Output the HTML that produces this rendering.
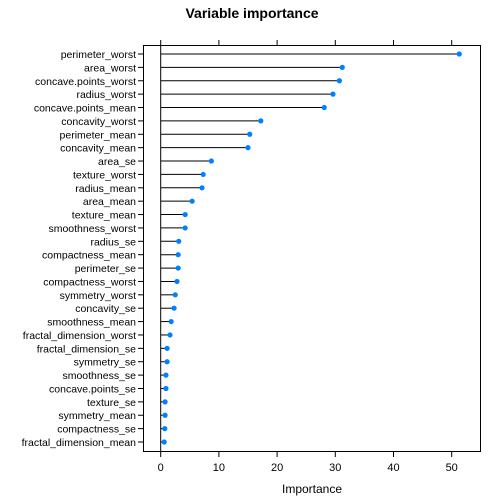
<!DOCTYPE html>
<html><head><meta charset="utf-8"><style>body{margin:0;background:#fff}svg{display:block;font-family:"Liberation Sans",sans-serif}</style></head>
<body>
<svg width="504" height="504" id="c">
<text x="252" y="18" text-anchor="middle" font-size="14" font-weight="bold">Variable importance</text>
<rect x="143.5" y="45.5" width="337" height="406" fill="none" stroke="#000"/>
<text x="312" y="493" text-anchor="middle" font-size="12">Importance</text>
</svg>
<script>
const categories=["perimeter_worst","area_worst","concave.points_worst","radius_worst","concave.points_mean","concavity_worst","perimeter_mean","concavity_mean","area_se","texture_worst","radius_mean","area_mean","texture_mean","smoothness_worst","radius_se","compactness_mean","perimeter_se","compactness_worst","symmetry_worst","concavity_se","smoothness_mean","fractal_dimension_worst","fractal_dimension_se","symmetry_se","smoothness_se","concave.points_se","texture_se","symmetry_mean","compactness_se","fractal_dimension_mean"];
const values=[51.3,31.2,30.7,29.6,28.1,17.2,15.3,15.0,8.7,7.3,7.1,5.4,4.2,4.2,3.1,3.0,3.0,2.8,2.5,2.3,1.8,1.6,1.1,1.1,0.9,0.9,0.75,0.75,0.7,0.6];
const ticks=[0,10,20,30,40,50];
const svg=document.getElementById('c');const NS="http://www.w3.org/2000/svg";
const x=v=>160.7+v*5.82;
const y=i=>54+i*(442-54)/(categories.length-1);
function mk(t,a){const e=document.createElementNS(NS,t);for(const k in a)e.setAttribute(k,a[k]);svg.appendChild(e);return e;}
const z=mk('line',{x1:x(0),x2:x(0),y1:45.5,y2:451.5,stroke:'#000'});


ticks.forEach(t=>{
 const a=mk('line',{x1:x(t),x2:x(t),y1:451.5,y2:457,stroke:'#000'});
 
 
 const b=mk('line',{x1:x(t),x2:x(t),y1:40,y2:45.5,stroke:'#000'});
 
 
 const l=mk('text',{x:x(t),y:471,'text-anchor':'middle','font-size':11});
 l.textContent=t;
 
 
});
categories.forEach((c,i)=>{
 const yy=y(i);
 const tk=mk('line',{x1:138,x2:143.5,y1:yy,y2:yy,stroke:'#000'});
 
 
 const l=mk('text',{x:136,y:yy+4,'text-anchor':'end','font-size':10.5});
 l.textContent=c;
 
 
 const s=mk('line',{x1:x(0),x2:x(values[i]),y1:yy,y2:yy,stroke:'#000','stroke-width':1});
 
 
 const p=mk('circle',{cx:x(values[i]),cy:yy,r:2.6,fill:'#0080ff'});
 
 
});
</script>
</body></html>
